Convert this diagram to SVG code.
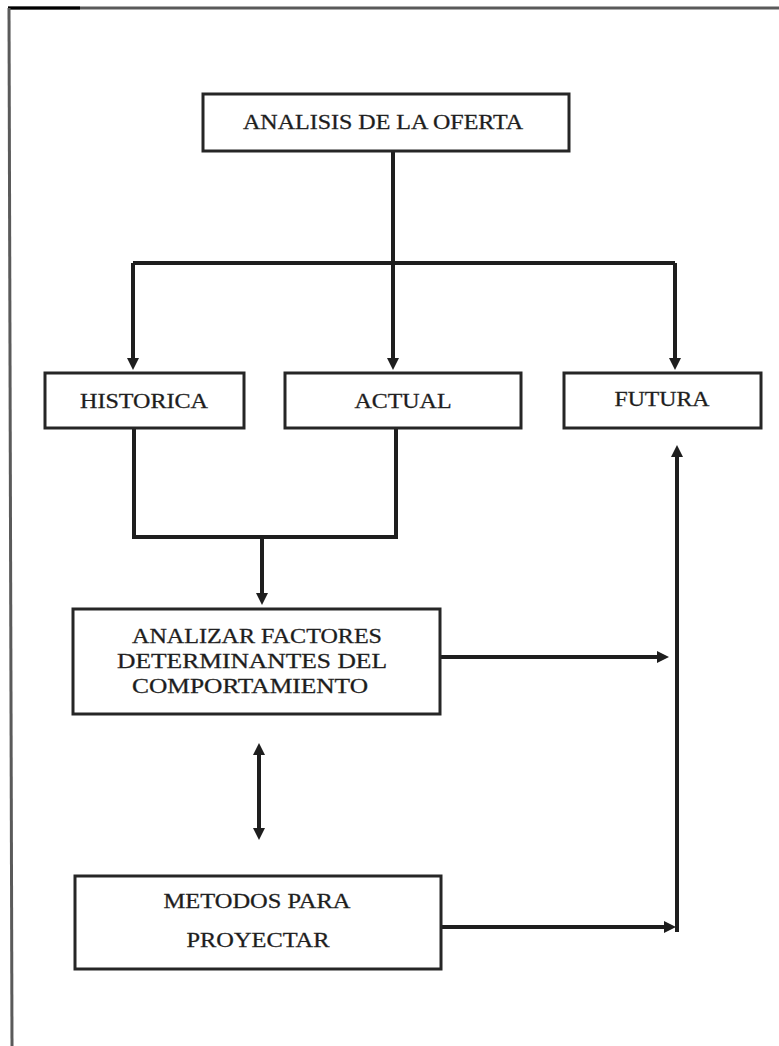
<svg xmlns="http://www.w3.org/2000/svg" width="779" height="1046" viewBox="0 0 779 1046">
  <style>
    .box { fill: #ffffff; stroke: #262626; stroke-width: 3; }
    .lbl { font-family: "Liberation Serif", "Times New Roman", serif; font-size: 20px; fill: #1c1c1c; stroke: #2a2a2a; stroke-width: 0.3; text-anchor: middle; }
    .wire { fill: none; stroke: #1e1e1e; stroke-width: 4; }
    .frame { fill: none; stroke: #5a5a5a; stroke-width: 3; }
  </style>
  <defs>
    <marker id="head" viewBox="0 0 12 12" markerUnits="userSpaceOnUse" markerWidth="12" markerHeight="12" refX="2" refY="6" orient="auto-start-reverse">
      <path d="M0,0 L12,6 L0,12 z" fill="#1e1e1e"/>
    </marker>
  </defs>

  <rect width="779" height="1046" fill="#ffffff"/>

  <!-- page frame (top and left edges) -->
  <g id="frame">
    <line class="frame" x1="8" y1="8" x2="779" y2="8"/>
    <line x1="8" y1="8" x2="80" y2="8" stroke="#000" stroke-width="3"/>
    <line class="frame" x1="9" y1="8" x2="12" y2="1046"/>
  </g>

  <!-- connectors -->
  <g id="connectors">
    <path class="wire" d="M393,151 V360" marker-end="url(#head)"/>
    <path class="wire" d="M133,263 H675"/>
    <path class="wire" d="M133,263 V360" marker-end="url(#head)"/>
    <path class="wire" d="M675,263 V360" marker-end="url(#head)"/>
    <path class="wire" d="M134,428 V537 H396 V428"/>
    <path class="wire" d="M262,537 V595" marker-end="url(#head)"/>
    <path class="wire" d="M440,657 H659" marker-end="url(#head)"/>
    <path class="wire" d="M677,932 V455" marker-end="url(#head)"/>
    <path class="wire" d="M441,927 H666" marker-end="url(#head)"/>
    <path class="wire" d="M259,753 V830" marker-start="url(#head)" marker-end="url(#head)"/>
  </g>

  <g id="oferta">
    <rect class="box" x="203" y="94" width="366" height="57"/>
    <text class="lbl" x="383" y="129" textLength="280" lengthAdjust="spacingAndGlyphs">ANALISIS DE LA OFERTA</text>
  </g>

  <g id="historica">
    <rect class="box" x="45" y="373" width="199" height="55"/>
    <text class="lbl" x="144" y="408" textLength="128" lengthAdjust="spacingAndGlyphs">HISTORICA</text>
  </g>

  <g id="actual">
    <rect class="box" x="285" y="373" width="236" height="55"/>
    <text class="lbl" x="403" y="408" textLength="97" lengthAdjust="spacingAndGlyphs">ACTUAL</text>
  </g>

  <g id="futura">
    <rect class="box" x="564" y="373" width="197" height="55"/>
    <text class="lbl" x="662" y="406" textLength="95" lengthAdjust="spacingAndGlyphs">FUTURA</text>
  </g>

  <g id="factores">
    <rect class="box" x="73" y="609" width="367" height="105"/>
    <text class="lbl" x="257" y="643" textLength="250" lengthAdjust="spacingAndGlyphs">ANALIZAR FACTORES</text>
    <text class="lbl" x="252" y="668" textLength="270" lengthAdjust="spacingAndGlyphs">DETERMINANTES DEL</text>
    <text class="lbl" x="250" y="693" textLength="236" lengthAdjust="spacingAndGlyphs">COMPORTAMIENTO</text>
  </g>

  <g id="metodos">
    <rect class="box" x="75" y="876" width="366" height="93"/>
    <text class="lbl" x="257" y="908" textLength="187" lengthAdjust="spacingAndGlyphs">METODOS PARA</text>
    <text class="lbl" x="258" y="947" textLength="143" lengthAdjust="spacingAndGlyphs">PROYECTAR</text>
  </g>
</svg>
